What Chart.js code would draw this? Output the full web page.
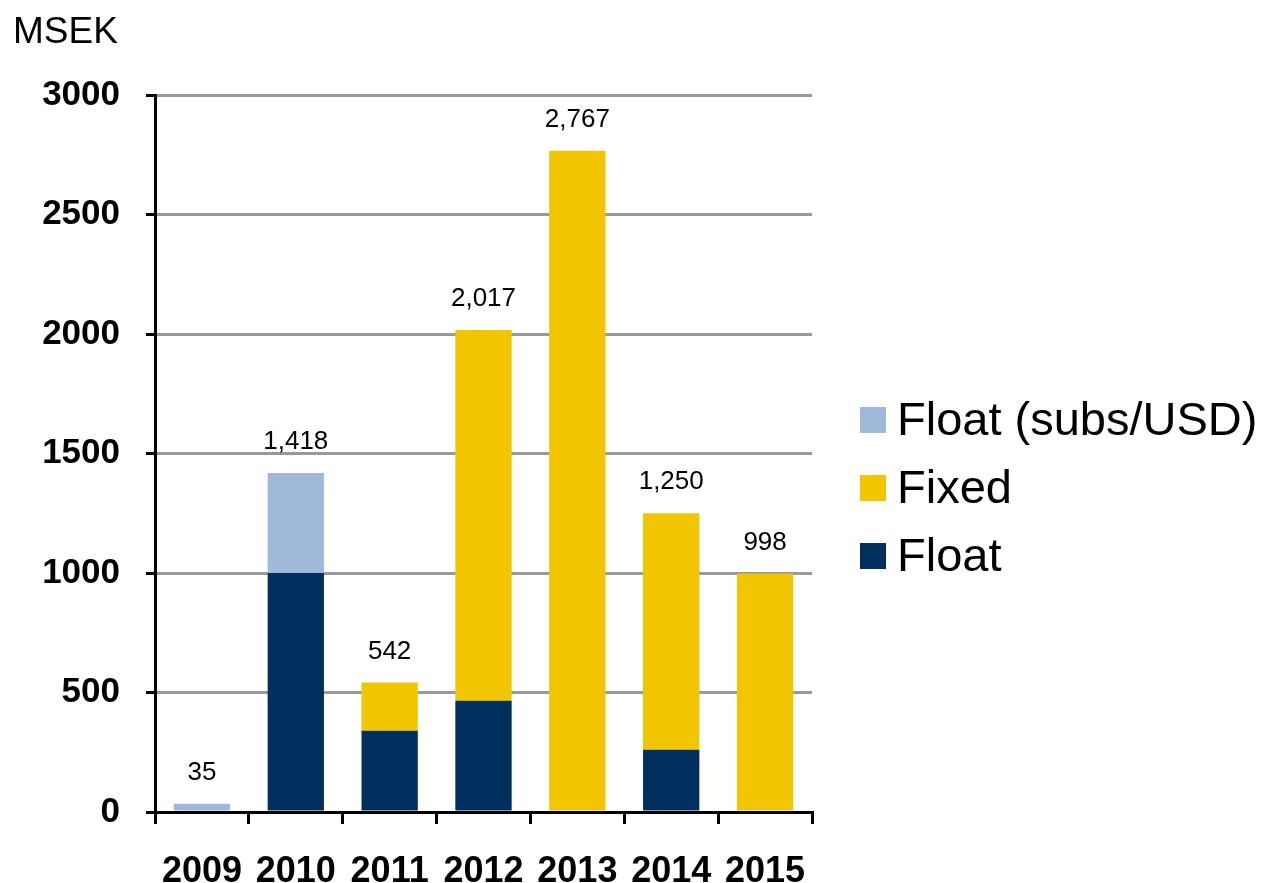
<!DOCTYPE html>
<html>
<head>
<meta charset="utf-8">
<script src="https://cdn.jsdelivr.net/npm/chart.js@4/dist/chart.umd.min.js"></script>
<style>
  html, body { margin: 0; padding: 0; background: #fff; }
  #grafica { display: block; }
</style>
</head>
<body>
<canvas id="grafica" width="1268" height="883"></canvas>
<script>
const anys = ["2009", "2010", "2011", "2012", "2013", "2014", "2015"];
// stacked from the bottom: Float, Fixed, Float (subs/USD)
const flotant = [0, 1000, 340, 465, 0, 260, 0];
const fix = [0, 0, 202, 1552, 2767, 990, 998];
const flotantSubs = [35, 418, 0, 0, 0, 0, 0];
const ticksY = [0, 500, 1000, 1500, 2000, 2500, 3000];

const FONT = "'Liberation Sans', Arial, sans-serif";

// totals shown above each column
const totals = anys.map((_, i) => flotant[i] + fix[i] + flotantSubs[i]);

const etiquetes = {
    id: "etiquetes",
    afterDatasetsDraw(chart) {
        const c = chart.ctx;
        const x = chart.scales.x, y = chart.scales.y;
        c.save();
        c.fillStyle = "#000";
        c.font = "26px " + FONT;
        c.textAlign = "center";
        c.textBaseline = "bottom";
        totals.forEach((t, i) => {
            c.fillText(t.toLocaleString("en-US"), x.getPixelForValue(i), y.getPixelForValue(t) - 18);
        });

        // unit
        c.textAlign = "left";
        c.textBaseline = "alphabetic";
        c.font = "37px " + FONT;
        c.fillText("MSEK", 13, 43);

        // legend, top to bottom in reverse stack order
        c.font = "47px " + FONT;
        c.textBaseline = "middle";
        const ds = chart.data.datasets.slice().reverse();
        ds.forEach((d, k) => {
            const cy = 420 + k * 68;
            c.fillStyle = d.backgroundColor;
            c.fillRect(860, cy - 13, 26, 26);
            c.fillStyle = "#000";
            c.fillText(d.label, 897, cy + 2);
        });
        c.restore();
    }
};

const ctx = document.getElementById("grafica").getContext("2d");
const grafica = new Chart(ctx, {
    type: "bar",
    data: {
        labels: anys,
        datasets: [
            { label: "Float", data: flotant, backgroundColor: "#01305f" },
            { label: "Fixed", data: fix, backgroundColor: "#f1c500" },
            { label: "Float (subs/USD)", data: flotantSubs, backgroundColor: "#a0b9da" }
        ]
    },
    options: {
        responsive: false,
        animation: false,
        layout: { padding: { top: 95, right: 456, bottom: 0, left: 0 } },
        datasets: { bar: { categoryPercentage: 1, barPercentage: 0.6 } },
        plugins: { legend: { display: false }, tooltip: { enabled: false } },
        scales: {
            x: {
                stacked: true,
                offset: true,
                afterFit(s) { s.height = 71; },
                grid: {
                    offset: true,
                    drawOnChartArea: false,
                    tickLength: 12,
                    tickColor: "#000",
                    lineWidth: 3
                },
                border: { color: "#000", width: 3 },
                ticks: {
                    color: "#000",
                    padding: 26,
                    maxRotation: 0,
                    font: { family: FONT, size: 36, weight: "bold" }
                }
            },
            y: {
                stacked: true,
                min: 0,
                max: 3000,
                afterFit(s) { s.width = 155; },
                afterBuildTicks(s) { s.ticks = ticksY.map(v => ({ value: v })); },
                grid: {
                    color: "#999",
                    lineWidth: 3,
                    tickLength: 9,
                    tickColor: "#000"
                },
                border: { color: "#000", width: 3 },
                ticks: {
                    color: "#000",
                    padding: 26,
                    callback: v => String(v),
                    font: { family: FONT, size: 35, weight: "bold" }
                }
            }
        }
    },
    plugins: [etiquetes]
});
</script>
</body>
</html>
